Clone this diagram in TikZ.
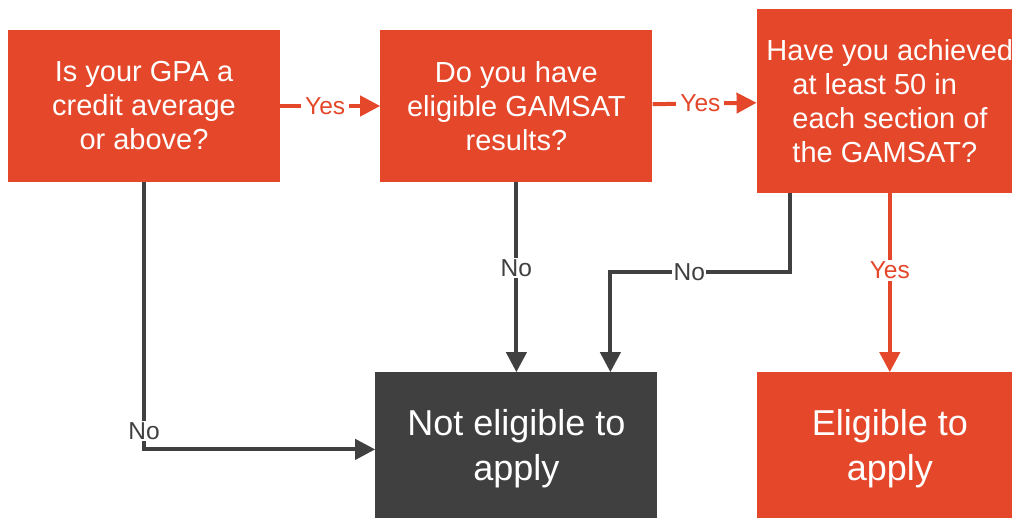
\documentclass[tikz,border=0pt]{standalone}
\usepackage{fontspec}
\setmainfont{Liberation Sans}
\usepackage{tikz}
\usetikzlibrary{positioning}
\usetikzlibrary{shapes,arrows.meta}
\definecolor{uorange}{HTML}{E4472A}
\definecolor{ugray}{HTML}{404040}
\tikzstyle{block} = [rectangle, fill=uorange, text=white, minimum width=272pt,
    minimum height=152pt, inner sep=0pt, align=center, font=\fontsize{29}{34}\selectfont]
\tikzstyle{result} = [block, minimum height=146pt, text depth=0pt, font=\fontsize{36}{45}\selectfont]
\tikzstyle{line} = [draw, line width=4pt, -{Triangle[length=20pt,width=20pt]}]
\tikzstyle{yesline} = [line, draw=uorange]
\tikzstyle{noline} = [line, draw=ugray]
\tikzstyle{yes} = [fill=white, text=uorange, inner xsep=4pt, inner ysep=2pt, font=\fontsize{24.5}{28}\selectfont]
\tikzstyle{no} = [fill=white, text=ugray, inner sep=1.5pt, font=\fontsize{24.5}{28}\selectfont]

\begin{document}
\begin{tikzpicture}
        \useasboundingbox (0pt,0pt) rectangle (1012pt,-519pt);
        \node [block] (gpa) at (144pt,-106pt) {Is your GPA a\\credit average\\or above?};
        \node [block, right=100pt of gpa] (gamsat) {Do you have\\eligible GAMSAT\\results?};
        \node [block, right=104pt of gamsat, yshift=5pt, minimum width=266pt,
            minimum height=184pt, align=left] (score) {Have you achieved\\\hspace*{26pt}at least 50 in\\\hspace*{26pt}each section of\\\hspace*{26pt}the GAMSAT?};
        \node [result, below=190pt of gamsat, fill=ugray, minimum width=282pt] (noapply) {Not eligible to\\apply};
        \node [result, below=179pt of score, minimum width=266pt] (apply) {Eligible to\\apply};
        % edges
        \path [yesline] (gpa) -- node[yes, pos=0.45] {Yes} (gamsat);
        \path [yesline] (gamsat) -- node[yes, pos=0.46] {Yes} (score);
        \path [yesline] (score) -- node[yes, pos=0.43] {Yes} (apply);
        \path [noline] (gpa.south) |- node[no, pos=0.465] {No} ([yshift=-4pt]noapply.west);
        \path [noline] (gamsat) -- node[no, pos=0.45] {No} (noapply);
        \path [noline] ([xshift=33pt]score.south west) -- ++(0pt,-79pt)
            -| node[no, pos=0.28] {No} ([xshift=94pt]noapply.north);
    \end{tikzpicture}
\end{document}
